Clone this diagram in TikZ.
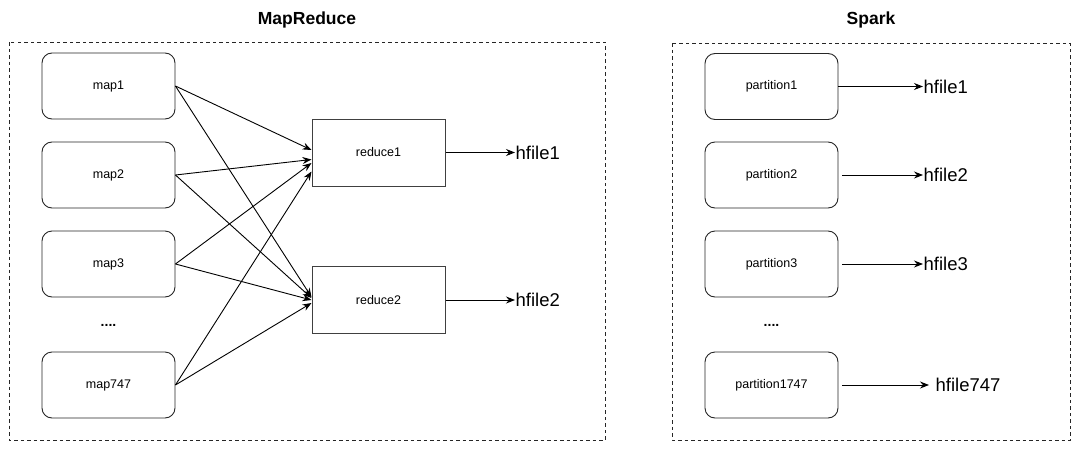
\documentclass[tikz,border=0pt]{standalone}
\usepackage{fontspec}
\setmainfont{Liberation Sans}
\usetikzlibrary{arrows.meta,calc}
\begin{document}
\begin{tikzpicture}[x=1pt,y=-1pt,
  every node/.style={font=\fontsize{12.5}{14}\selectfont},
  frame/.style={draw=black!85, line width=0.9pt, dash pattern=on 3.5pt off 3pt},
  title/.style={font=\fontsize{17.5}{20}\selectfont\bfseries},
  mapbox/.style={draw=black!85, line width=0.9pt, rounded corners=10pt, minimum width=133pt, minimum height=66pt, inner sep=0pt},
  redbox/.style={draw=black!75, line width=1pt, minimum width=133pt, minimum height=67pt, inner sep=0pt},
  outfile/.style={font=\fontsize{18.5}{20}\selectfont, anchor=west, inner sep=0.5pt},
  dots/.style={font=\fontsize{14}{16}\selectfont\bfseries},
  arr/.style={line width=0.9pt, -{Stealth[length=9pt,width=7pt,inset=3pt]}}
]
\useasboundingbox (0,0) rectangle (1080,450);
% frames
\draw[frame] (9,42) rectangle (605,440);
\draw[frame] (672,43) rectangle (1070,440);
\node[title] (t1) at (307,20) {MapReduce};
\node[title] (t2) at (871,20) {Spark};
% map nodes
\node[mapbox] (m1) at (108.5,86) {map1};
\node[mapbox] (m2) at (108.5,175) {map2};
\node[mapbox] (m3) at (108.5,264) {map3};
\node[dots] (d1) at (108.5,325) {....};
\node[mapbox] (m4) at (108.5,385) {map747};
% reduce nodes
\node[redbox] (r1) at (378.5,152.5) {reduce1};
\node[redbox] (r2) at (378.5,300) {reduce2};
% hfiles
\node[outfile] (h1) at (515,152.5) {hfile1};
\node[outfile] (h2) at (515,300) {hfile2};
\draw[arr] (r1.east) -- (h1.west);
\draw[arr] (r2.east) -- (h2.west);
% shuffle arrows
\draw[arr] (m1.east) -- ($(r1.west)+(0,-2.5)$);
\draw[arr] (m2.east) -- ($(r1.west)+(0,7)$);
\draw[arr] (m3.east) -- ($(r1.west)+(0,10.5)$);
\draw[arr] (m4.east) -- ($(r1.west)+(0,19)$);
\draw[arr] (m1.east) -- ($(r2.west)+(0,-3)$);
\draw[arr] (m2.east) -- ($(r2.west)+(0,-2)$);
\draw[arr] (m3.east) -- ($(r2.west)+(0,0)$);
\draw[arr] (m4.east) -- ($(r2.west)+(0,3)$);
% spark
\node[mapbox] (p1) at (771.5,86.5) {partition1};
\node[mapbox] (p2) at (771.5,175) {partition2};
\node[mapbox] (p3) at (771.5,264) {partition3};
\node[dots] (d2) at (771.5,325) {....};
\node[mapbox] (p4) at (771.5,385) {partition1747};
\node[outfile] (s1) at (923,86.5) {hfile1};
\node[outfile] (s2) at (923,175) {hfile2};
\node[outfile] (s3) at (923,264) {hfile3};
\node[outfile] (s4) at (935,385) {hfile747};
\draw[arr] (p1.east) -- (s1.west);
\draw[arr, shorten <=4pt] (p2.east) -- (s2.west);
\draw[arr, shorten <=4pt] (p3.east) -- (s3.west);
\draw[arr, shorten <=4pt, shorten >=6pt] (p4.east) -- (s4.west);
\end{tikzpicture}
\end{document}
